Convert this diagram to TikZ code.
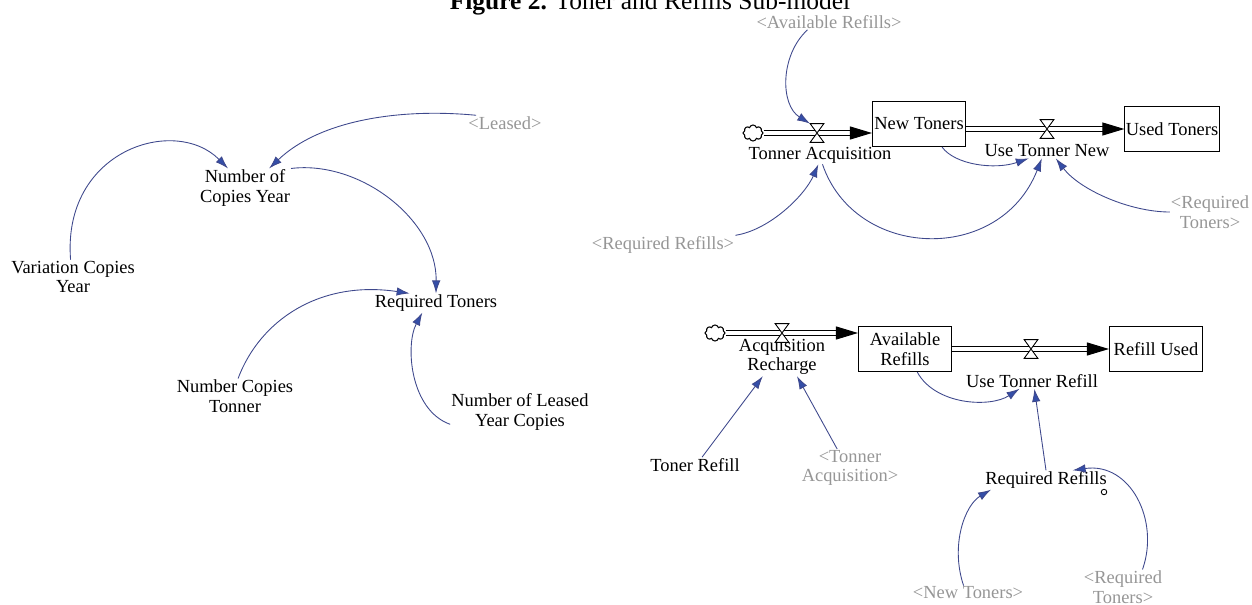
\documentclass[tikz,border=0pt]{standalone}
\usepackage{fontspec}
\setmainfont{Liberation Serif}
\usetikzlibrary{arrows.meta,shapes.symbols}
\definecolor{linkblue}{RGB}{62,72,140}
\definecolor{tipblue}{RGB}{52,78,168}
\definecolor{shadowgray}{RGB}{150,150,150}

\begin{document}
\begin{tikzpicture}[x=0.02cm, y=-0.02cm,
    var/.style={font=\fontsize{10.5}{11.2}\selectfont, align=center, inner sep=0.5pt},
    shadow/.style={var, text=shadowgray},
    level/.style={var, draw, line width=0.6pt, minimum width=1.86cm, minimum height=0.9cm},
    valve/.style={inner sep=0, minimum width=0.26cm, minimum height=0.36cm},
    source/.style={cloud, cloud puffs=8, draw, line width=0.6pt, inner sep=0, minimum width=0.4cm, minimum height=0.32cm},
    link/.style={linkblue, line width=0.5pt, -{Latex[length=0.26cm,width=0.17cm,fill=tipblue]}},
    pipe/.style={double, double distance=1.8pt, line width=0.6pt, -{Triangle[length=0.44cm,width=0.26cm]}}]
    \useasboundingbox (0,0) rectangle (1252,605);

    \node[anchor=base, font=\fontsize{14.5}{16}\selectfont] (title) at (650,10) {\textbf{Figure 2.} Toner and Refills Sub-model};

    \node[shadow] (leased) at (505,123) {<Leased>};
    \node[var] (ncy) at (245,188) {Number of\\Copies Year};
    \node[var] (vcy) at (73,277) {Variation Copies\\Year};
    \node[var] (rt) at (436,303) {Required Toners};
    \node[var] (nct) at (235,396) {Number Copies\\Tonner};
    \node[var] (nlyc) at (520,412) {Number of Leased\\Year Copies};

    \node[shadow] (avref) at (829,22) {<Available Refills>};
    \node[source] (src1) at (753,133) {};
    \node[level] (nt) at (919,124) {New Toners};
    \node[level] (ut) at (1172,129) {Used Toners};
    \node[valve] (vta) at (817,133) {};
    \node[var] (ta) at (820,155) {Tonner Acquisition};
    \node[valve] (vutn) at (1047,129) {};
    \node[var] (utn) at (1047,151) {Use Tonner New};
    \node[shadow] (rqt1) at (1210,212) {<Required\\Toners>};
    \node[shadow] (rqr) at (663,245) {<Required Refills>};

    \node[source] (src2) at (715,333) {};
    \node[level] (avr) at (905,349) {Available\\Refills};
    \node[level] (ru) at (1156,349) {Refill Used};
    \node[valve] (vacq) at (782,333) {};
    \node[var] (arl) at (782,357) {Acquisition\\Recharge};
    \node[valve] (vutr) at (1031,349) {};
    \node[var] (utr) at (1032,381) {Use Tonner Refill};
    \node[var] (tr) at (695,465) {Toner Refill};
    \node[shadow] (tacq) at (850,468) {<Tonner\\Acquisition>};
    \node[var] (rr) at (1046,480) {Required Refills};
    \node[draw, circle, line width=0.5pt, inner sep=0, minimum size=0.11cm] (rrdot) at (1104,492) {};
    \node[shadow] (nt2) at (968,593) {<New Toners>};
    \node[shadow] (rqt2) at (1123,587) {<Required\\Toners>};

    \draw[pipe] (src1) -- (nt.west |- src1);
    \draw[pipe] (nt.east |- ut.west) -- (ut.west);
    \draw[pipe] (src2) -- (avr.west |- src2);
    \draw[pipe] (avr.east) -- (ru.west);
    \foreach \v in {vta,vutn,vacq,vutr}
      \draw[fill=white, line width=0.5pt] (\v.north west) -- (\v.north east) -- (\v.south west) -- (\v.south east) -- cycle;

    \draw[link] (vcy.98) .. controls (62,150) and (175,115) .. (ncy.131);
    \draw[link] (leased.165) .. controls (400,108) and (320,120) .. (ncy.39);
    \draw[link] (ncy.23) .. controls (360,160) and (437,220) .. (rt.north);
    \draw[link] (nct.80) .. controls (260,320) and (320,280) .. (rt.160);
    \draw[link] (nlyc.190) .. controls (410,410) and (405,345) .. (rt.215);

    \draw[link] (avref.200) .. controls (780,55) and (780,105) .. (vta.north west);
    \draw[link] (rqr.north east) .. controls (770,230) and (805,195) .. (ta.260);
    \draw[link] (ta.285) .. controls (855,260) and (1000,265) .. (utn.235);
    \draw[link] (nt.315) .. controls (955,165) and (995,170) .. (utn.202);
    \draw[link] (rqt1.west) .. controls (1130,212) and (1080,190) .. (utn.320);

    \draw[link] (tr.48) -- (arl.225);
    \draw[link] (tacq.124) -- (arl.308);
    \draw[link] (avr.298) .. controls (935,405) and (990,408) .. (utr.212);
    \draw[link] (rr.north) -- (utr.287);
    \draw[link] (nt2.121) .. controls (950,545) and (965,505) .. (rr.190);
    \draw[link] (rqt2.42) .. controls (1160,520) and (1130,462) .. (rr.20);
\end{tikzpicture}
\end{document}
